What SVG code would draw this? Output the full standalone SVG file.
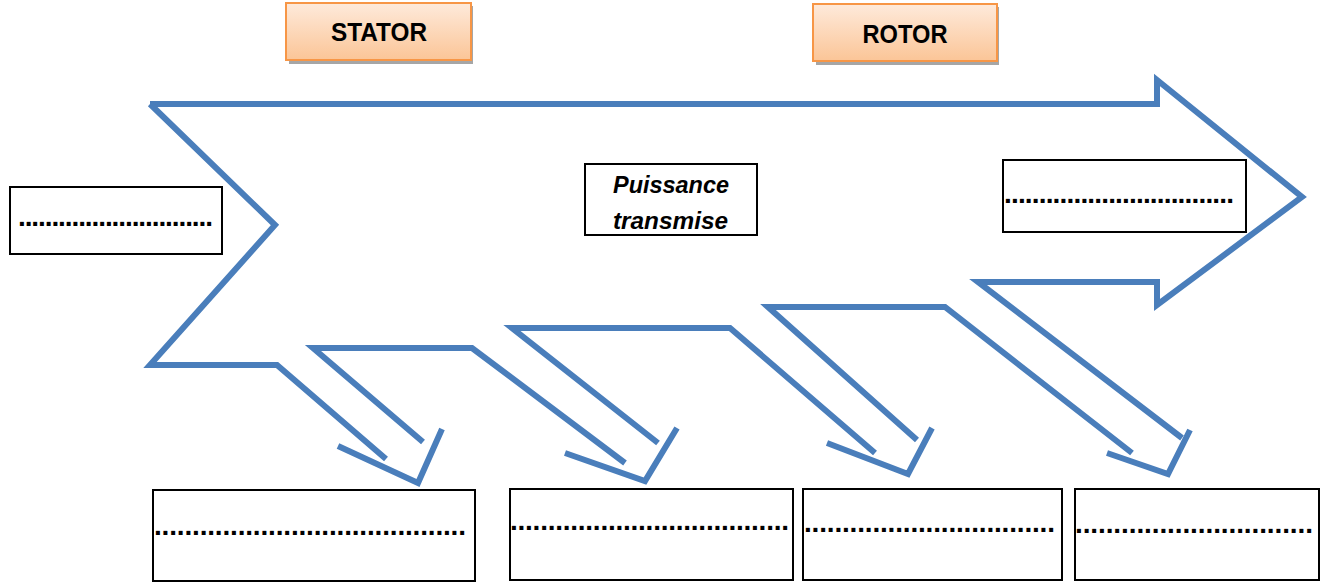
<svg xmlns="http://www.w3.org/2000/svg" width="1327" height="585" viewBox="0 0 1327 585">
<defs>
<linearGradient id="og" x1="0" y1="0" x2="0" y2="1">
<stop offset="0" stop-color="#FEEADB"/>
<stop offset="1" stop-color="#FBC597"/>
</linearGradient>
</defs>
<style>
.ln{fill:none;stroke:#4A7EBB;stroke-width:6;stroke-linejoin:miter;stroke-miterlimit:10}
.bx{fill:#fff;stroke:#000;stroke-width:2}
.ob{fill:url(#og);stroke:#F79646;stroke-width:2}
.sh{fill:#A6A6A6}
.lbl{font-family:"Liberation Sans",Arial,sans-serif;font-weight:bold;font-size:25px;fill:#000;text-anchor:middle}
.pt{font-family:"Liberation Sans",Arial,sans-serif;font-weight:bold;font-style:italic;font-size:23px;fill:#000}
.dt{font-family:"Liberation Sans",Arial,sans-serif;font-weight:bold;font-size:28px;fill:#000}
</style>
<rect width="1327" height="585" fill="#fff"/>
<g id="connectors">
<path class="ln" d="M150,104 L1157,104 L1157,80 L1302,197 L1157,305 L1157,282 L978,282 L1182,438"/>
<path class="ln" d="M150,104 L275,225 L150,365 L277,365 L386,459"/>
<path class="ln" d="M423,442 L313,348 L472,348 L625,463"/>
<path class="ln" d="M658,443 L512,328 L730,328 L875,453"/>
<path class="ln" d="M917,440 L768,307 L945,307 L1132,453"/>
<path class="ln" d="M338,446 L418,483 L442,429"/>
<path class="ln" d="M565,453 L645,481 L677,428"/>
<path class="ln" d="M827,443 L908,474 L932,428"/>
<path class="ln" d="M1107,453 L1168,474 L1190,430"/>
</g>
<g id="stator">
<rect class="sh" x="289" y="6" width="184" height="58"/>
<rect class="ob" x="286" y="3" width="185" height="57"/>
<text class="lbl" x="379" y="41" textLength="96" lengthAdjust="spacingAndGlyphs">STATOR</text>
</g>
<g id="rotor">
<rect class="sh" x="816" y="7" width="183" height="58"/>
<rect class="ob" x="813" y="4" width="184" height="57"/>
<text class="lbl" x="905" y="43" textLength="85" lengthAdjust="spacingAndGlyphs">ROTOR</text>
</g>
<g id="puissance">
<rect class="bx" x="585" y="164" width="172" height="71"/>
<text class="pt" x="613" y="193" textLength="116" lengthAdjust="spacingAndGlyphs">Puissance</text>
<text class="pt" x="613" y="229" textLength="115" lengthAdjust="spacingAndGlyphs">transmise</text>
</g>
<g id="box-left">
<rect class="bx" x="10" y="187" width="212" height="67"/>
<text class="dt" x="18" y="226" textLength="195" lengthAdjust="spacing">.............................</text>
</g>
<g id="box-right">
<rect class="bx" x="1003" y="160" width="243" height="72"/>
<text class="dt" x="1004" y="203" textLength="230" lengthAdjust="spacing">.................................</text>
</g>
<g id="box-b1">
<rect class="bx" x="153" y="490" width="322" height="91"/>
<text class="dt" x="154" y="535" textLength="312" lengthAdjust="spacing">.........................................</text>
</g>
<g id="box-b2">
<rect class="bx" x="510" y="489" width="283" height="91"/>
<text class="dt" x="510" y="530" textLength="279" lengthAdjust="spacing">.....................................</text>
</g>
<g id="box-b3">
<rect class="bx" x="803" y="489" width="259" height="91"/>
<text class="dt" x="804" y="532" textLength="251" lengthAdjust="spacing">.................................</text>
</g>
<g id="box-b4">
<rect class="bx" x="1075" y="489" width="244" height="91"/>
<text class="dt" x="1075" y="533" textLength="238" lengthAdjust="spacing">...............................</text>
</g>
</svg>
